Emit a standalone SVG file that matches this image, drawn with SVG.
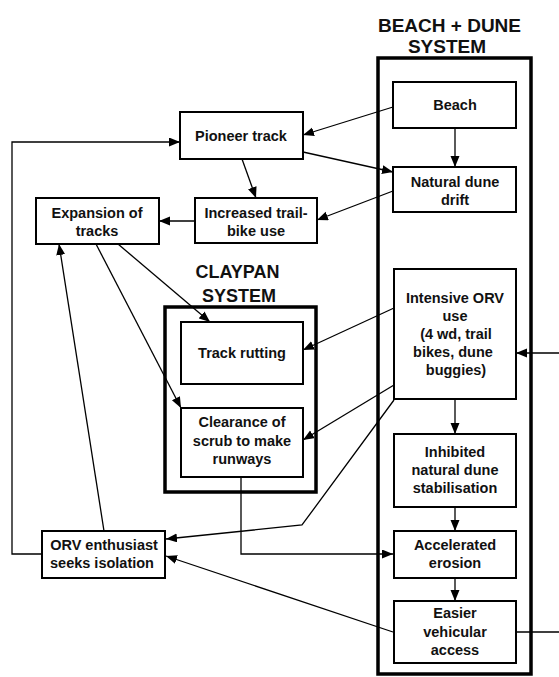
<svg xmlns="http://www.w3.org/2000/svg" width="559" height="677" viewBox="0 0 559 677">
<style>
.box{fill:#fff;stroke:#000;stroke-width:2}
.sys{fill:none;stroke:#000;stroke-width:3.5}
.t{font-family:"Liberation Sans",Arial,sans-serif;font-weight:bold;font-size:14.5px;fill:#111;text-anchor:middle}
.title{font-family:"Liberation Sans",Arial,sans-serif;font-weight:bold;font-size:18px;fill:#111;text-anchor:middle}
.c{fill:none;stroke:#000;stroke-width:1.3}
</style>
<defs>
<marker id="ah" markerUnits="userSpaceOnUse" markerWidth="12" markerHeight="10" refX="11" refY="4.5" orient="auto">
<path d="M0,0 L11,4.5 L0,9 Z" fill="#000"/>
</marker>
</defs>
<rect width="559" height="677" fill="#fff"/>

<g id="beach-dune-system">
<rect class="sys" x="378" y="58" width="153" height="616"/>
<text class="title" x="449.5" y="32" style="font-size:19px">BEACH + DUNE</text>
<text class="title" x="447" y="53" style="font-size:19px">SYSTEM</text>
</g>
<g id="claypan-system">
<rect class="sys" x="165" y="307" width="151" height="185"/>
<text class="title" x="237.5" y="278">CLAYPAN</text>
<text class="title" x="239" y="302">SYSTEM</text>
</g>

<g id="connectors">
<path class="c" d="M393,107 L303,135" marker-end="url(#ah)"/>
<path class="c" d="M303,152 L393,172" marker-end="url(#ah)"/>
<path class="c" d="M455,128 L455,167" marker-end="url(#ah)"/>
<path class="c" d="M393,191 L317,220" marker-end="url(#ah)"/>
<path class="c" d="M242,159 L256,198" marker-end="url(#ah)"/>
<path class="c" d="M195,221 L159,221" marker-end="url(#ah)"/>
<path class="c" d="M42,554 L12,554 L12,142 L180,142" marker-end="url(#ah)"/>
<path class="c" d="M118,244 L210,322" marker-end="url(#ah)"/>
<path class="c" d="M96,244 L181,408" marker-end="url(#ah)"/>
<path class="c" d="M104,531 L59,244" marker-end="url(#ah)"/>
<path class="c" d="M394,308 L303,350" marker-end="url(#ah)"/>
<path class="c" d="M394,385 L303,440" marker-end="url(#ah)"/>
<path class="c" d="M394,400 L302,525 L166,539" marker-end="url(#ah)"/>
<path class="c" d="M241,477 L241,554 L393,554" marker-end="url(#ah)"/>
<path class="c" d="M455,399 L455,434" marker-end="url(#ah)"/>
<path class="c" d="M455,507 L455,531" marker-end="url(#ah)"/>
<path class="c" d="M455,578 L455,601" marker-end="url(#ah)"/>
<path class="c" d="M393,632 L166,556" marker-end="url(#ah)"/>
<path class="c" d="M516,632 L562,632 L562,353 L516,353" marker-end="url(#ah)"/>
</g>

<g id="beach">
<rect class="box" x="393" y="82" width="123" height="46"/>
<text class="t" x="455" y="110">Beach</text>
</g>
<g id="natural-dune-drift">
<rect class="box" x="393" y="167" width="123" height="45"/>
<text class="t" x="455" y="187">Natural dune</text>
<text class="t" x="455" y="205">drift</text>
</g>
<g id="pioneer-track">
<rect class="box" x="180" y="112" width="123" height="47"/>
<text class="t" x="241" y="141">Pioneer track</text>
</g>
<g id="increased-trail-bike-use">
<rect class="box" x="195" y="198" width="122" height="45"/>
<text class="t" x="256" y="218">Increased trail-</text>
<text class="t" x="256" y="236">bike use</text>
</g>
<g id="expansion-of-tracks">
<rect class="box" x="36" y="198" width="123" height="46"/>
<text class="t" x="97" y="218">Expansion of</text>
<text class="t" x="97" y="236">tracks</text>
</g>
<g id="track-rutting">
<rect class="box" x="181" y="322" width="122" height="62"/>
<text class="t" x="242" y="358">Track rutting</text>
</g>
<g id="clearance-of-scrub">
<rect class="box" x="181" y="408" width="122" height="69"/>
<text class="t" x="242" y="427">Clearance of</text>
<text class="t" x="242" y="446">scrub to make</text>
<text class="t" x="242" y="464">runways</text>
</g>
<g id="intensive-orv-use">
<rect class="box" x="394" y="269" width="122" height="130"/>
<text class="t" x="455" y="303">Intensive ORV</text>
<text class="t" x="455" y="321">use</text>
<text class="t" x="456" y="339">(4 wd, trail</text>
<text class="t" x="453" y="357">bikes, dune</text>
<text class="t" x="456" y="375">buggies)</text>
</g>
<g id="inhibited-stabilisation">
<rect class="box" x="394" y="434" width="122" height="73"/>
<text class="t" x="455" y="457">Inhibited</text>
<text class="t" x="455" y="475">natural dune</text>
<text class="t" x="455" y="493">stabilisation</text>
</g>
<g id="accelerated-erosion">
<rect class="box" x="394" y="531" width="122" height="47"/>
<text class="t" x="455" y="550">Accelerated</text>
<text class="t" x="455" y="568">erosion</text>
</g>
<g id="easier-vehicular-access">
<rect class="box" x="394" y="601" width="122" height="62"/>
<text class="t" x="455" y="618">Easier</text>
<text class="t" x="455" y="637">vehicular</text>
<text class="t" x="455" y="655">access</text>
</g>
<g id="orv-enthusiast">
<rect class="box" x="42" y="531" width="123" height="47"/>
<text class="t" x="104" y="550">ORV enthusiast</text>
<text class="t" x="102" y="568">seeks isolation</text>
</g>
</svg>
